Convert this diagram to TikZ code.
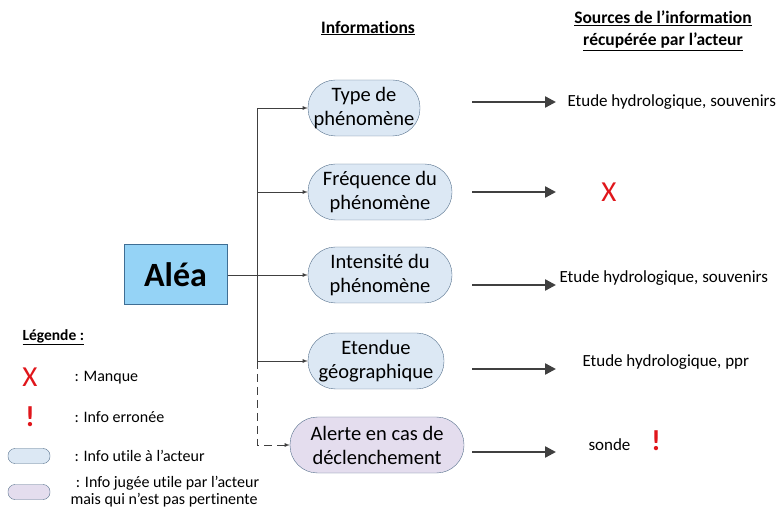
\documentclass[tikz,border=0pt]{standalone}
\usepackage{fontspec}
\setmainfont{Carlito}[Ligatures=NoCommon]
\usetikzlibrary{arrows.meta}
\definecolor{ovalblue}{HTML}{DCE8F4}
\definecolor{ovallila}{HTML}{E4DDEE}
\definecolor{ovalline}{HTML}{56708C}
\definecolor{aleafill}{HTML}{95D3F6}
\definecolor{alealine}{HTML}{3F6E94}
\definecolor{arrgray}{HTML}{404040}
\definecolor{markred}{HTML}{E0161B}
\begin{document}
\begin{tikzpicture}[x=1pt,y=-1pt,>=latex,
  oval/.style={draw=ovalline,fill=ovalblue,rounded corners=27.5pt,align=center,inner sep=0pt,minimum height=56pt,font=\fontsize{20.5}{24}\selectfont},
  nonpert/.style={fill=ovallila},
  minioval/.style={draw=ovalline,fill=ovalblue,rounded corners=7pt,minimum width=42pt,minimum height=15pt,inner sep=0pt},
  head/.style={font=\bfseries\fontsize{17.5}{22}\selectfont,align=center},
  src/.style={font=\fontsize{17}{20}\selectfont,anchor=west},
  leg/.style={font=\fontsize{16}{17}\selectfont,anchor=west,align=left},
  cross/.style={text=markred,font=\fontsize{29}{29}\selectfont},
  bang/.style={text=markred,font=\bfseries\fontsize{29}{29}\selectfont},
  link/.style={->,draw=arrgray,line width=0.8pt},
  bigarr/.style={-{Triangle[length=11pt,width=11pt]},draw=arrgray,line width=2.4pt}]
\useasboundingbox (0,0) rectangle (782,510);
% titres
\node[head] (hinfo) at (368,28) {\underline{Informations}};
\node[head] (hsrc) at (663,31) {\underline{Sources de l’information}\\\underline{récupérée par l’acteur}};
% alea et informations
\node[draw=alealine,fill=aleafill,line width=1pt,minimum width=103pt,minimum height=60pt,font=\bfseries\fontsize{34}{36}\selectfont] (alea) at (175.5,275) {Aléa};
\node[oval,minimum width=112pt] (type) at (364,108) {Type de\\phénomène};
\node[oval,minimum width=144pt] (freq) at (380,192) {Fréquence du\\phénomène};
\node[oval,minimum width=144pt] (inten) at (380,275) {Intensité du\\phénomène};
\node[oval,minimum width=136pt] (etend) at (376,361) {Etendue\\géographique};
\node[oval,nonpert,minimum width=174pt] (alerte) at (377,445) {Alerte en cas de\\déclenchement};
\coordinate (bus) at (257,275);
\draw[link] (alea.east) -- (inten.west);
\foreach \n in {type,freq,etend}
  \draw[link] (bus) |- (\n.west);
\draw[link,dash pattern=on 8pt off 5pt] (bus |- etend.west) |- (alerte.west);
% sources
\foreach \i/\y in {1/102,2/192,3/285,4/369,5/452}{
  \coordinate (s\i) at (472,\y);
  \coordinate (e\i) at (556,\y);
  \draw[bigarr] (s\i) -- (e\i);
}
\node[src] (src1) at (564,102) {Etude hydrologique, souvenirs};
\node[cross] (miss) at (609,192) {X};
\node[src] (src3) at (556,278) {Etude hydrologique, souvenirs};
\node[src] (src4) at (579,362) {Etude hydrologique, ppr};
\node[src] (src5) at (585,445) {sonde};
\node[bang] (err) at (656,441) {!};
% legende
\node[font=\bfseries\fontsize{15.5}{17}\selectfont,anchor=west] (leg) at (19,337) {\underline{Légende :}};
\node[cross] (lgx) at (30,377) {X};
\node[leg] (lgxt) at (71,378) {: Manque};
\node[bang] (lgb) at (30,417) {!};
\node[leg] (lgbt) at (71,417) {: Info erronée};
\node[minioval] (lgo) at (29,456) {};
\node[leg] (lgot) at (71,456) {: Info utile à l’acteur};
\node[minioval,nonpert] (lgp) at (29,492) {};
\node[leg] (lgpt) at (67,492) {\,\,: Info jugée utile par l’acteur\\mais qui n’est pas pertinente};
\end{tikzpicture}
\end{document}
